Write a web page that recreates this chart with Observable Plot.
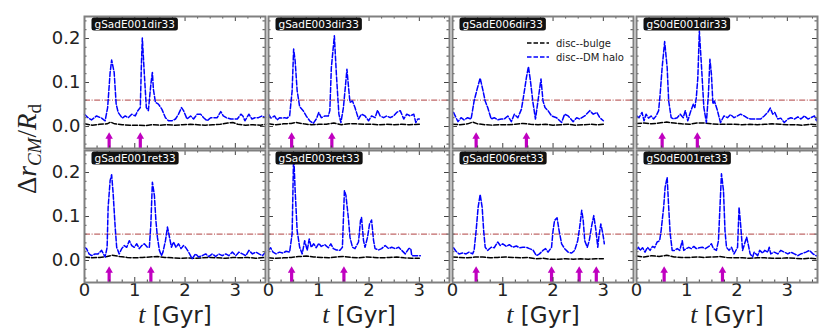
<!DOCTYPE html>
<html>
<head>
<meta charset="utf-8">
<script src="https://cdn.jsdelivr.net/npm/d3@7"></script>
<script src="https://cdn.jsdelivr.net/npm/@observablehq/plot@0.6"></script>
<style>
  html, body { margin: 0; padding: 0; background: white; }
  #chart { width: 830px; height: 332px; }
</style>
</head>
<body>
<div id="chart"></div>
<script>
// ---------- data ----------
const panelNames = ["gSadE001dir33","gSadE003dir33","gSadE006dir33","gS0dE001dir33",
                    "gSadE001ret33","gSadE003ret33","gSadE006ret33","gS0dE001ret33"];

const legendLabels = ["disc--bulge", "disc--DM halo"];
const xAxisTitle = "t [Gyr]";
const thresholdValue = 0.06;

const xTickLabels = [0, 1, 2, 3];
const xMinorTicks = [0.25,0.5,0.75,1.25,1.5,1.75,2.25,2.5,2.75,3.25,3.5];
const yTickLabels = [0, 0.1, 0.2];
const yMinorTicks = [-0.04,-0.02,0.02,0.04,0.06,0.08,0.12,0.14,0.16,0.18,0.22,0.24];

// disc--DM halo  [t (Gyr), Δr/Rd]
const halo_E001dir = [[0,0.028],[0.07,0.020],[0.14,0.015],[0.24,0.024],[0.34,0.019],[0.41,0.013],[0.46,0.043],[0.51,0.123],[0.54,0.151],[0.59,0.123],[0.63,0.051],[0.67,0.032],[0.75,0.019],[0.81,0.024],[0.87,0.020],[0.94,0.028],[1.01,0.024],[1.06,0.036],[1.11,0.043],[1.13,0.134],[1.15,0.201],[1.19,0.119],[1.23,0.043],[1.27,0.036],[1.32,0.096],[1.35,0.123],[1.37,0.085],[1.41,0.055],[1.47,0.051],[1.54,0.039],[1.61,0.020],[1.67,0.013],[1.74,0.013],[1.81,0.017],[1.87,0.028],[1.93,0.043],[1.97,0.036],[2.04,0.017],[2.11,0.024],[2.17,0.017],[2.24,0.028],[2.31,0.028],[2.37,0.020],[2.44,0.013],[2.51,0.020],[2.57,0.020],[2.64,0.020],[2.71,0.034],[2.76,0.024],[2.82,0.020],[2.91,0.017],[2.97,0.017],[3.04,0.017],[3.11,0.028],[3.15,0.024],[3.19,0.013],[3.27,0.028],[3.33,0.017],[3.39,0.020],[3.46,0.020],[3.53,0.024],[3.60,0.020]];
const halo_E003dir = [[0,0.028],[0.05,0.019],[0.12,0.024],[0.17,0.015],[0.22,0.020],[0.27,0.019],[0.32,0.020],[0.37,0.019],[0.42,0.024],[0.47,0.081],[0.50,0.176],[0.53,0.149],[0.57,0.081],[0.62,0.045],[0.69,0.036],[0.75,0.024],[0.82,0.013],[0.89,0.007],[0.95,0.017],[1.00,0.032],[1.05,0.020],[1.12,0.024],[1.19,0.024],[1.22,0.036],[1.25,0.134],[1.31,0.206],[1.35,0.119],[1.40,0.028],[1.44,0.009],[1.49,0.043],[1.53,0.092],[1.56,0.130],[1.59,0.092],[1.62,0.055],[1.67,0.058],[1.72,0.043],[1.79,0.017],[1.85,0.028],[1.92,0.024],[1.99,0.013],[2.05,0.024],[2.12,0.020],[2.17,0.037],[2.22,0.024],[2.29,0.020],[2.35,0.024],[2.42,0.020],[2.49,0.024],[2.55,0.032],[2.62,0.036],[2.69,0.017],[2.75,0.028],[2.82,0.024],[2.89,0.028],[2.93,0.009],[2.97,0.017],[3.00,0.017]];
const halo_E006dir = [[0.02,0.032],[0.07,0.020],[0.11,0.011],[0.17,0.020],[0.23,0.015],[0.30,0.020],[0.37,0.017],[0.43,0.058],[0.49,0.085],[0.55,0.110],[0.60,0.085],[0.65,0.058],[0.70,0.043],[0.77,0.017],[0.83,0.020],[0.90,0.015],[0.97,0.017],[1.03,0.017],[1.10,0.024],[1.17,0.011],[1.23,0.028],[1.30,0.020],[1.37,0.039],[1.41,0.066],[1.47,0.111],[1.51,0.136],[1.55,0.104],[1.60,0.055],[1.65,0.017],[1.70,0.058],[1.76,0.108],[1.80,0.058],[1.84,0.043],[1.90,0.036],[1.97,0.024],[2.07,0.020],[2.17,0.009],[2.23,0.028],[2.30,0.024],[2.40,0.011],[2.47,0.020],[2.53,0.017],[2.63,0.024],[2.73,0.036],[2.80,0.028],[2.87,0.032],[2.93,0.020],[3.00,0.013]];
const halo_S0E001dir = [[0.01,0.024],[0.05,0.020],[0.11,0.032],[0.15,0.013],[0.19,0.028],[0.24,0.019],[0.29,0.024],[0.34,0.017],[0.39,0.024],[0.44,0.036],[0.47,0.073],[0.51,0.134],[0.56,0.193],[0.61,0.134],[0.64,0.058],[0.69,0.020],[0.74,0.017],[0.81,0.020],[0.87,0.028],[0.93,0.020],[0.97,0.036],[1.02,0.013],[1.07,0.032],[1.13,0.051],[1.16,0.043],[1.19,0.066],[1.22,0.111],[1.25,0.217],[1.29,0.142],[1.34,0.043],[1.39,0.009],[1.43,0.073],[1.46,0.153],[1.49,0.119],[1.52,0.051],[1.55,0.058],[1.61,0.036],[1.67,0.009],[1.74,0.024],[1.81,0.020],[1.87,0.027],[1.94,0.020],[2.01,0.024],[2.07,0.028],[2.14,0.024],[2.21,0.019],[2.27,0.017],[2.34,0.017],[2.41,0.017],[2.47,0.017],[2.54,0.024],[2.61,0.032],[2.66,0.042],[2.71,0.028],[2.75,0.032],[2.81,0.017],[2.87,0.019],[2.94,0.009],[3.01,0.017],[3.07,0.020],[3.14,0.017],[3.21,0.022],[3.27,0.017],[3.34,0.024],[3.41,0.017],[3.47,0.020],[3.54,0.024],[3.58,0.013],[3.60,0.024]];
const halo_E001ret = [[0,0.030],[0.04,0.027],[0.09,0.015],[0.14,0.011],[0.21,0.015],[0.27,0.015],[0.34,0.023],[0.41,0.008],[0.45,0.030],[0.47,0.121],[0.51,0.182],[0.54,0.195],[0.57,0.152],[0.61,0.076],[0.64,0.030],[0.69,0.015],[0.74,0.027],[0.79,0.034],[0.84,0.030],[0.89,0.045],[0.94,0.034],[0.99,0.030],[1.04,0.038],[1.09,0.027],[1.14,0.034],[1.19,0.038],[1.25,0.030],[1.29,0.030],[1.32,0.083],[1.35,0.178],[1.39,0.148],[1.42,0.091],[1.45,0.053],[1.49,0.023],[1.53,0.011],[1.56,0.019],[1.61,0.045],[1.65,0.076],[1.69,0.053],[1.73,0.030],[1.77,0.042],[1.82,0.030],[1.87,0.038],[1.92,0.027],[1.97,0.034],[2.01,0.030],[2.05,0.023],[2.09,0.015],[2.14,0.004],[2.21,0.015],[2.27,0.008],[2.34,0.011],[2.41,0.015],[2.47,0.009],[2.54,0.015],[2.61,0.009],[2.67,0.015],[2.74,0.011],[2.81,0.015],[2.87,0.011],[2.94,0.019],[3.01,0.011],[3.07,0.019],[3.14,0.015],[3.21,0.011],[3.27,0.023],[3.34,0.015],[3.41,0.019],[3.47,0.015],[3.54,0.011],[3.60,0.019]];
const halo_E003ret = [[0,0.023],[0.04,0.029],[0.09,0.019],[0.15,0.015],[0.22,0.019],[0.29,0.017],[0.35,0.021],[0.42,0.019],[0.47,0.061],[0.50,0.245],[0.53,0.159],[0.57,0.068],[0.62,0.030],[0.67,0.015],[0.72,0.045],[0.77,0.023],[0.81,0.049],[0.85,0.030],[0.90,0.038],[0.95,0.029],[1.00,0.039],[1.05,0.032],[1.12,0.036],[1.19,0.029],[1.24,0.038],[1.29,0.027],[1.35,0.024],[1.42,0.023],[1.47,0.030],[1.51,0.159],[1.54,0.148],[1.59,0.095],[1.62,0.053],[1.67,0.030],[1.72,0.027],[1.79,0.042],[1.83,0.091],[1.85,0.098],[1.89,0.045],[1.92,0.030],[1.97,0.053],[2.01,0.083],[2.05,0.092],[2.09,0.045],[2.12,0.027],[2.19,0.024],[2.25,0.027],[2.32,0.034],[2.39,0.027],[2.45,0.030],[2.52,0.027],[2.59,0.030],[2.65,0.023],[2.72,0.015],[2.79,0.027],[2.83,0.027],[2.85,0.011],[2.92,0.011],[2.99,0.011],[3.02,0.011]];
const halo_E006ret = [[0.02,0.029],[0.07,0.021],[0.13,0.015],[0.20,0.017],[0.27,0.015],[0.33,0.019],[0.40,0.015],[0.43,0.023],[0.47,0.068],[0.51,0.121],[0.55,0.150],[0.59,0.121],[0.62,0.068],[0.65,0.030],[0.70,0.023],[0.77,0.030],[0.83,0.029],[0.90,0.042],[0.95,0.034],[1.00,0.038],[1.07,0.032],[1.13,0.036],[1.20,0.030],[1.27,0.033],[1.33,0.029],[1.40,0.030],[1.47,0.030],[1.53,0.027],[1.60,0.024],[1.67,0.011],[1.73,0.015],[1.80,0.023],[1.85,0.027],[1.90,0.019],[1.97,0.030],[2.00,0.068],[2.03,0.091],[2.08,0.097],[2.12,0.068],[2.17,0.038],[2.23,0.027],[2.30,0.019],[2.37,0.017],[2.43,0.023],[2.49,0.045],[2.53,0.076],[2.57,0.114],[2.60,0.091],[2.63,0.045],[2.68,0.030],[2.72,0.045],[2.77,0.080],[2.81,0.102],[2.85,0.071],[2.89,0.030],[2.91,0.053],[2.95,0.083],[2.99,0.061],[3.02,0.038]];
const halo_S0E001ret = [[0,0.025],[0.04,0.030],[0.07,0.023],[0.12,0.029],[0.17,0.019],[0.22,0.030],[0.27,0.023],[0.32,0.032],[0.36,0.029],[0.41,0.042],[0.46,0.045],[0.49,0.068],[0.54,0.121],[0.57,0.167],[0.61,0.189],[0.64,0.121],[0.67,0.061],[0.71,0.023],[0.76,0.023],[0.81,0.027],[0.86,0.023],[0.91,0.045],[0.94,0.023],[0.99,0.027],[1.04,0.030],[1.09,0.027],[1.14,0.032],[1.19,0.027],[1.25,0.029],[1.31,0.030],[1.37,0.027],[1.44,0.032],[1.49,0.038],[1.53,0.027],[1.59,0.023],[1.63,0.045],[1.66,0.121],[1.69,0.197],[1.73,0.159],[1.76,0.068],[1.79,0.030],[1.84,0.023],[1.89,0.030],[1.94,0.015],[2.01,0.030],[2.04,0.121],[2.07,0.083],[2.11,0.023],[2.15,0.038],[2.19,0.053],[2.22,0.038],[2.26,0.015],[2.31,0.008],[2.34,0.019],[2.41,0.011],[2.45,0.023],[2.51,0.017],[2.55,0.023],[2.61,0.019],[2.64,0.030],[2.67,0.015],[2.74,0.019],[2.81,0.015],[2.87,0.023],[2.94,0.019],[3.01,0.015],[3.07,0.019],[3.14,0.015],[3.21,0.011],[3.27,0.015],[3.37,0.019],[3.44,0.023],[3.51,0.015],[3.57,0.011],[3.60,0.011]];

// disc--bulge
const bulge_E001dir = [[0,0.006],[0.15,0.003],[0.3,0.005],[0.45,0.006],[0.52,0.010],[0.6,0.006],[0.75,0.004],[0.9,0.003],[1.05,0.003],[1.2,0.002],[1.35,0.004],[1.5,0.003],[1.65,0.004],[1.8,0.003],[1.95,0.004],[2.1,0.005],[2.25,0.004],[2.4,0.003],[2.55,0.004],[2.7,0.005],[2.85,0.008],[2.95,0.009],[3.05,0.005],[3.2,0.003],[3.35,0.004],[3.5,0.003],[3.6,0.005]];
const bulge_E003dir = [[0,0.006],[0.15,0.004],[0.3,0.006],[0.45,0.007],[0.55,0.009],[0.7,0.006],[0.85,0.004],[1.0,0.005],[1.15,0.005],[1.3,0.008],[1.45,0.004],[1.6,0.006],[1.75,0.006],[1.9,0.005],[2.05,0.005],[2.2,0.004],[2.35,0.005],[2.5,0.004],[2.65,0.005],[2.8,0.004],[3.0,0.005]];
const bulge_E006dir = [[0,0.005],[0.15,0.004],[0.3,0.006],[0.4,0.010],[0.5,0.006],[0.65,0.004],[0.8,0.003],[0.95,0.004],[1.1,0.004],[1.25,0.005],[1.4,0.007],[1.55,0.005],[1.7,0.004],[1.85,0.005],[2.0,0.003],[2.15,0.004],[2.3,0.005],[2.45,0.003],[2.6,0.004],[2.75,0.005],[2.9,0.004],[3.0,0.005]];
const bulge_S0E001dir = [[0,0.007],[0.15,0.008],[0.3,0.006],[0.45,0.008],[0.6,0.010],[0.75,0.008],[0.9,0.006],[1.05,0.005],[1.2,0.008],[1.35,0.008],[1.5,0.006],[1.65,0.005],[1.8,0.005],[1.95,0.005],[2.1,0.004],[2.25,0.005],[2.4,0.004],[2.55,0.005],[2.7,0.006],[2.85,0.005],[3.0,0.004],[3.15,0.004],[3.3,0.003],[3.45,0.005],[3.6,0.004]];
const bulge_E001ret = [[0,0.008],[0.15,0.006],[0.3,0.007],[0.45,0.009],[0.55,0.012],[0.7,0.009],[0.85,0.007],[1.0,0.006],[1.15,0.007],[1.3,0.008],[1.45,0.009],[1.6,0.007],[1.75,0.006],[1.9,0.005],[2.05,0.006],[2.2,0.005],[2.35,0.006],[2.5,0.007],[2.65,0.006],[2.8,0.005],[2.95,0.007],[3.1,0.006],[3.25,0.007],[3.4,0.005],[3.6,0.007]];
const bulge_E003ret = [[0,0.006],[0.15,0.005],[0.3,0.006],[0.45,0.007],[0.6,0.009],[0.75,0.010],[0.9,0.008],[1.05,0.007],[1.2,0.006],[1.35,0.008],[1.5,0.009],[1.65,0.007],[1.8,0.006],[1.95,0.008],[2.1,0.007],[2.25,0.006],[2.4,0.007],[2.55,0.008],[2.7,0.006],[2.85,0.005],[3.0,0.005]];
const bulge_E006ret = [[0,0.008],[0.15,0.007],[0.3,0.006],[0.45,0.008],[0.6,0.008],[0.75,0.006],[0.9,0.007],[1.05,0.008],[1.2,0.007],[1.35,0.006],[1.5,0.007],[1.65,0.004],[1.8,0.005],[1.95,0.003],[2.1,0.003],[2.25,0.004],[2.4,0.003],[2.55,0.004],[2.7,0.003],[2.85,0.004],[3.0,0.004]];
const bulge_S0E001ret = [[0,0.010],[0.15,0.008],[0.3,0.011],[0.45,0.009],[0.6,0.012],[0.75,0.008],[0.9,0.007],[1.05,0.007],[1.2,0.008],[1.35,0.007],[1.5,0.008],[1.65,0.009],[1.8,0.007],[1.95,0.006],[2.1,0.006],[2.25,0.005],[2.4,0.006],[2.55,0.006],[2.7,0.005],[2.85,0.005],[3.0,0.006],[3.15,0.005],[3.3,0.004],[3.45,0.005],[3.6,0.004]];

// encounter times (magenta arrows), Gyr
const arrows_E001dir = [0.49, 1.11];
const arrows_E003dir = [0.46, 1.26];
const arrows_E006dir = [0.47, 1.47];
const arrows_S0E001dir = [0.51, 1.21];
const arrows_E001ret = [0.49, 1.32];
const arrows_E003ret = [0.46, 1.50];
const arrows_E006ret = [0.47, 1.97, 2.52, 2.86];
const arrows_S0E001ret = [0.55, 1.71];

const haloSeries = [halo_E001dir, halo_E003dir, halo_E006dir, halo_S0E001dir, halo_E001ret, halo_E003ret, halo_E006ret, halo_S0E001ret];
const bulgeSeries = [bulge_E001dir, bulge_E003dir, bulge_E006dir, bulge_S0E001dir, bulge_E001ret, bulge_E003ret, bulge_E006ret, bulge_S0E001ret];
const arrowSeries = [arrows_E001dir, arrows_E003dir, arrows_E006dir, arrows_S0E001dir, arrows_E001ret, arrows_E003ret, arrows_E006ret, arrows_S0E001ret];

// ---------- build tidy table ----------
const rows = [];
panelNames.forEach((name, i) => {
  const col = i % 4, row = Math.floor(i / 4);
  haloSeries[i].forEach(([t, v]) => rows.push({name, col, row, kind: "halo", t, v}));
  bulgeSeries[i].forEach(([t, v]) => rows.push({name, col, row, kind: "bulge", t, v}));
  arrowSeries[i].forEach(t => rows.push({name, col, row, kind: "arrow", t}));
  rows.push({name, col, row, kind: "label"});
  if (row === 1) rows.push({name, col, row, kind: "xlab"});
});

// ---------- geometry helpers ----------
const W = 830, H = 332, mL = 83, mR = 12, mT = 16, mB = 50;
const xDom = [0, 3.6], yDom = [-0.05, 0.25];
const panelW = 181.7, panelH = 132;
const kx = (xDom[1] - xDom[0]) / panelW;   // data units per px
const ky = (yDom[1] - yDom[0]) / panelH;
const major = 5, minor = 2.5;
const tickStroke = "#444";
const magenta = "#c000c0";

const chart = Plot.plot({
  width: W, height: H,
  marginLeft: mL, marginRight: mR, marginTop: mT, marginBottom: mB,
  style: {fontFamily: "DejaVu Sans, sans-serif", fontSize: "18px", color: "#222", background: "white", overflow: "visible"},
  facet: {data: rows, x: "col", y: "row"},
  fx: {axis: null, padding: 0.015},
  fy: {axis: null, padding: 0.015},
  x: {domain: xDom, ticks: xTickLabels, tickSize: 0, tickPadding: 1, label: null, tickFormat: d3.format("d")},
  y: {domain: yDom, ticks: yTickLabels, tickSize: 0, tickPadding: 4, label: null, tickFormat: d3.format(".1f")},
  marks: [
    Plot.ruleY([thresholdValue], {stroke: "#b04040", strokeWidth: 1, strokeDasharray: "6,1.6,1,1.6"}),
    Plot.line(rows, {filter: d => d.kind === "bulge", x: "t", y: "v", stroke: "black", strokeWidth: 1.5, strokeDasharray: "5,2"}),
    Plot.line(rows, {filter: d => d.kind === "halo", x: "t", y: "v", stroke: "#0000ff", strokeWidth: 1.5, strokeDasharray: "5,2"}),
    Plot.ruleX(rows, {filter: d => d.kind === "arrow", x: "t", y1: yDom[0], y2: yDom[0] + 11 * ky, stroke: magenta, strokeWidth: 3.2}),
    Plot.dot(rows, {filter: d => d.kind === "arrow", x: "t", y: yDom[0] + 12 * ky, symbol: "triangle", r: 2.8, fill: magenta, stroke: "none"}),
    // inward ticks, four sides
    Plot.ruleX(xTickLabels, {x: d => d, y1: yDom[0], y2: yDom[0] + major * ky, stroke: tickStroke}),
    Plot.ruleX(xTickLabels, {x: d => d, y1: yDom[1] - major * ky, y2: yDom[1], stroke: tickStroke}),
    Plot.ruleX(xMinorTicks, {x: d => d, y1: yDom[0], y2: yDom[0] + minor * ky, stroke: tickStroke}),
    Plot.ruleX(xMinorTicks, {x: d => d, y1: yDom[1] - minor * ky, y2: yDom[1], stroke: tickStroke}),
    Plot.ruleY(yTickLabels, {y: d => d, x1: xDom[0], x2: xDom[0] + major * kx, stroke: tickStroke}),
    Plot.ruleY(yTickLabels, {y: d => d, x1: xDom[1] - major * kx, x2: xDom[1], stroke: tickStroke}),
    Plot.ruleY(yMinorTicks, {y: d => d, x1: xDom[0], x2: xDom[0] + minor * kx, stroke: tickStroke}),
    Plot.ruleY(yMinorTicks, {y: d => d, x1: xDom[1] - minor * kx, x2: xDom[1], stroke: tickStroke}),
    Plot.frame({stroke: "#808080", strokeWidth: 2}),
    Plot.text(rows, {filter: d => d.kind === "label", text: "name", frameAnchor: "top-left", textAnchor: "start", lineAnchor: "top", dx: 10, dy: 4, fill: "white", fontSize: 10.5}),
    Plot.text(rows, {filter: d => d.kind === "xlab", text: () => xAxisTitle, frameAnchor: "bottom", dy: 40, fontSize: 23, fill: "#222"})
  ]
});

document.getElementById("chart").appendChild(chart);

const svg = d3.select(chart);

// label boxes behind panel names
svg.selectAll("text").filter(function () { return panelNames.includes(this.textContent); }).each(function () {
  const bb = this.getBBox();
  const r = document.createElementNS("http://www.w3.org/2000/svg", "rect");
  r.setAttribute("x", bb.x - 3);
  r.setAttribute("y", bb.y - 0.5);
  r.setAttribute("width", bb.width + 6);
  r.setAttribute("height", bb.height + 1);
  r.setAttribute("rx", 2.5);
  r.setAttribute("fill", "#111");
  r.setAttribute("stroke", "none");
  const tr = this.getAttribute("transform");
  if (tr) r.setAttribute("transform", tr);
  this.parentNode.insertBefore(r, this);
});

// italic math "t" in x labels
svg.selectAll("text").filter(function () { return this.textContent === xAxisTitle; }).each(function () {
  const t = d3.select(this);
  t.text(null);
  t.append("tspan").attr("font-family", "Liberation Serif, DejaVu Serif, serif").attr("font-style", "italic").attr("font-size", 26).text("t");
  t.append("tspan").text(" [Gyr]");
});

// y-axis label  Δr_CM / R_d
const yl = svg.append("text")
  .attr("transform", `translate(36,${mT + (H - mT - mB) / 2}) rotate(-90)`)
  .attr("text-anchor", "middle")
  .attr("font-family", "Liberation Serif, DejaVu Serif, serif")
  .attr("font-size", 27)
  .attr("fill", "#222");
yl.append("tspan").text("Δ");
yl.append("tspan").attr("font-style", "italic").text("r");
yl.append("tspan").attr("font-style", "italic").attr("font-size", 19).attr("dy", 5).text("CM");
yl.append("tspan").attr("dy", -5).text("/");
yl.append("tspan").attr("font-style", "italic").text("R");
yl.append("tspan").attr("font-size", 19).attr("dy", 5).text("d");

// legend inside third upper panel
const lg = svg.append("g").attr("font-family", "DejaVu Sans, sans-serif").attr("font-size", 10).attr("fill", "#222").attr("text-anchor", "start");
[["black", legendLabels[0], 43], ["#0000ff", legendLabels[1], 57]].forEach(([c, lab, y]) => {
  lg.append("line").attr("x1", 527).attr("x2", 549).attr("y1", y).attr("y2", y)
    .attr("stroke", c).attr("stroke-width", 1.3).attr("stroke-dasharray", "4.5,2");
  lg.append("text").attr("x", 556).attr("y", y).attr("dy", "0.35em").attr("text-anchor", "start").text(lab);
});
</script>
</body>
</html>
